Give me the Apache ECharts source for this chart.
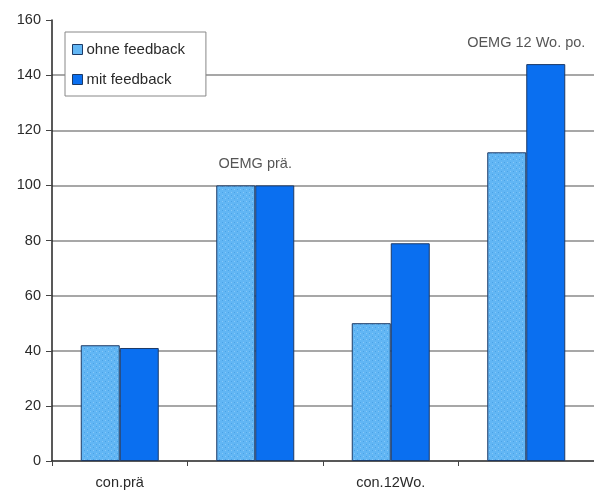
<!DOCTYPE html>
<html>
<head>
<meta charset="utf-8">
<script src="https://cdn.jsdelivr.net/npm/echarts@6/dist/echarts.min.js"></script>
<style>
  html, body { margin: 0; padding: 0; background: #fff; }
  #chart { width: 594px; height: 491px; }
</style>
</head>
<body>
<div id="chart"></div>
<script>
// Groups on the x axis; the two OEMG groups are named above their bars instead
const categories = ['con.prä', 'OEMG prä.', 'con.12Wo.', 'OEMG 12 Wo. po.'];
const axisNames = ['con.prä', '', 'con.12Wo.', ''];
const topNames = ['', 'OEMG prä.', '', 'OEMG 12 Wo. po.'];
const ohneFeedback = [42, 100, 50, 112];
const mitFeedback = [41, 100, 79, 144];
const yTicks = [0, 20, 40, 60, 80, 100, 120, 140, 160];

// Stippled light-blue fill for the "ohne feedback" bars
function stipple() {
  const c = document.createElement('canvas');
  c.width = 6; c.height = 6;
  const g = c.getContext('2d');
  g.fillStyle = '#62b6f4';
  g.fillRect(0, 0, 6, 6);
  g.fillStyle = '#4aa2e6';
  g.fillRect(0, 0, 1, 1);
  g.fillRect(3, 3, 1, 1);
  g.fillStyle = '#86c8f8';
  g.fillRect(3, 0, 1, 1);
  g.fillRect(0, 3, 1, 1);
  return { image: c, repeat: 'repeat' };
}

const chart = echarts.init(document.getElementById('chart'));
const textColor = '#2a2a2a';
const font = 'Liberation Sans, Arial, sans-serif';

chart.setOption({
  animation: false,
  backgroundColor: '#fff',
  textStyle: { fontFamily: font },
  grid: { left: 52, right: 0, top: 20, bottom: 30 },
  legend: {
    data: [
      { name: 'ohne feedback', itemStyle: { color: '#62b6f4', borderColor: '#1d3a66', borderWidth: 1 } },
      { name: 'mit feedback', itemStyle: { color: '#0a6ff0', borderColor: '#1d3a66', borderWidth: 1 } }
    ],
    orient: 'vertical',
    left: 65,
    top: 32,
    padding: [10, 21, 9, 7],
    itemWidth: 10,
    itemHeight: 10,
    itemGap: 15,
    icon: 'rect',
    backgroundColor: '#fff',
    borderColor: '#888',
    borderWidth: 1,
    textStyle: { fontSize: 15, color: textColor, fontFamily: font, padding: [0, 0, 0, -1] }
  },
  xAxis: {
    type: 'category',
    data: categories,
    axisLine: { lineStyle: { color: '#222', width: 1.5 } },
    axisTick: { show: true, length: 5, lineStyle: { color: '#444' } },
    axisLabel: {
      fontSize: 14.5,
      color: textColor,
      margin: 14,
      formatter: (v, i) => axisNames[i]
    }
  },
  yAxis: {
    type: 'value',
    min: 0,
    max: yTicks[yTicks.length - 1],
    interval: 20,
    axisLine: { show: true, lineStyle: { color: '#222', width: 1.5 } },
    axisTick: { show: true, length: 6, lineStyle: { color: '#444' } },
    axisLabel: { fontSize: 14.5, color: textColor, margin: 11 },
    splitLine: {
      show: true,
      lineStyle: {
        width: 1.5,
        color: ['transparent', '#8a8a8a', '#8a8a8a', '#8a8a8a', '#8a8a8a', '#8a8a8a', '#8a8a8a', '#8a8a8a', 'transparent']
      }
    }
  },
  series: [
    {
      name: 'ohne feedback',
      type: 'bar',
      data: ohneFeedback,
      barWidth: 39,
      barGap: '0%',
      itemStyle: { color: stipple(), borderColor: '#1d3a66', borderWidth: 1 }
    },
    {
      name: 'mit feedback',
      type: 'bar',
      data: mitFeedback,
      barWidth: 39,
      barGap: '0%',
      itemStyle: { color: '#0a6ff0', borderColor: '#1d3a66', borderWidth: 1 }
    },
    {
      // group names above the taller bar of each OEMG pair
      name: 'labels',
      type: 'scatter',
      symbolSize: 0,
      silent: true,
      data: categories.map((c, i) => topNames[i] ? Math.max(ohneFeedback[i], mitFeedback[i]) : null),
      label: {
        show: true,
        position: 'top',
        distance: 14,
        fontSize: 14.5,
        color: textColor,
        formatter: p => topNames[p.dataIndex]
      }
    }
  ]
});
</script>
</body>
</html>
